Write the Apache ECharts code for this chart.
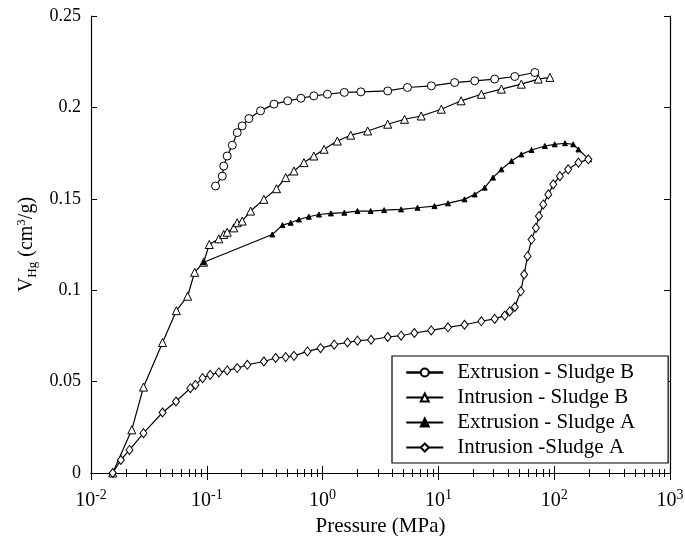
<!DOCTYPE html>
<html>
<head>
<meta charset="utf-8">
<script src="https://cdn.jsdelivr.net/npm/echarts@6/dist/echarts.min.js"></script>
<style>
html, body { margin: 0; padding: 0; background: #fff; }
#chart { width: 685px; height: 536px; }
</style>
</head>
<body>
<div id="chart"></div>
<script>
// Extrusion - Sludge B (circles), from high pressure down
var extBP = [68, 45.7, 30.6, 20.6, 13.8, 8.7, 5.4, 3.65, 2.14, 1.54, 1.1, 0.84, 0.65, 0.5, 0.38, 0.291, 0.231, 0.202, 0.183, 0.166, 0.15, 0.14, 0.136, 0.119];
var extBV = [0.2191, 0.2169, 0.2155, 0.2145, 0.2136, 0.2118, 0.2109, 0.209, 0.2085, 0.2082, 0.2072, 0.2063, 0.205, 0.2036, 0.2018, 0.1981, 0.1939, 0.1899, 0.1862, 0.1793, 0.1734, 0.1679, 0.1624, 0.157];

// Intrusion - Sludge B (open triangles)
var intBP = [0.0154, 0.0225, 0.0284, 0.0415, 0.0546, 0.0683, 0.0785, 0.094, 0.105, 0.127, 0.14, 0.15, 0.171, 0.183, 0.202, 0.239, 0.311, 0.4, 0.48, 0.566, 0.69, 0.84, 1.03, 1.34, 1.75, 2.45, 3.65, 5.1, 7.1, 10.6, 15.7, 23.5, 35, 52, 72.8, 91.8];
var intBV = [0, 0.0236, 0.047, 0.0714, 0.0888, 0.0967, 0.1098, 0.1153, 0.125, 0.1281, 0.1305, 0.1317, 0.1341, 0.1369, 0.1378, 0.1433, 0.1497, 0.1555, 0.1616, 0.1652, 0.1698, 0.1734, 0.1771, 0.1816, 0.1848, 0.1871, 0.1908, 0.1935, 0.1953, 0.199, 0.2036, 0.2072, 0.21, 0.2127, 0.2155, 0.2164];

// Extrusion - Sludge A (small filled triangles), from high pressure down
var extAP = [200, 162, 146, 124, 101, 83, 63.7, 52, 42.8, 35, 29.6, 25.1, 20.6, 16.8, 12.1, 9.25, 6.6, 4.76, 3.4, 2.6, 2.0, 1.54, 1.18, 0.93, 0.76, 0.625, 0.53, 0.45, 0.368, 0.094];
var extAV = [0.1716, 0.177, 0.1798, 0.1804, 0.1798, 0.1789, 0.1767, 0.1743, 0.1707, 0.1661, 0.1616, 0.1561, 0.1524, 0.1497, 0.1475, 0.146, 0.1451, 0.1442, 0.1438, 0.1433, 0.1433, 0.1424, 0.142, 0.1414, 0.1402, 0.1387, 0.1369, 0.1356, 0.1305, 0.1153];

// Intrusion - Sludge A (diamonds)
var intAP = [0.0154, 0.0181, 0.0215, 0.0284, 0.0415, 0.0542, 0.0721, 0.0797, 0.092, 0.107, 0.127, 0.15, 0.183, 0.224, 0.311, 0.393, 0.48, 0.566, 0.74, 0.96, 1.26, 1.64, 2.0, 2.62, 3.65, 4.76, 6.2, 8.66, 12.1, 16.8, 23.5, 30.6, 37.4, 41.3, 45.7, 51.5, 55, 58.9, 63.7, 69.5, 73.8, 80.4, 88.9, 98.2, 112, 132, 162, 197];
var intAV = [0, 0.0071, 0.0126, 0.0218, 0.0331, 0.0391, 0.0464, 0.0482, 0.0519, 0.0537, 0.055, 0.0561, 0.0574, 0.0592, 0.061, 0.0629, 0.0634, 0.0641, 0.0665, 0.0683, 0.0702, 0.0714, 0.0724, 0.0729, 0.0744, 0.0751, 0.0766, 0.078, 0.0797, 0.0811, 0.083, 0.0843, 0.0861, 0.0884, 0.0908, 0.0994, 0.1086, 0.1186, 0.1277, 0.1341, 0.1405, 0.1469, 0.1524, 0.1579, 0.1624, 0.1661, 0.1698, 0.1716];

var names = ['Extrusion - Sludge B', 'Intrusion - Sludge B', 'Extrusion - Sludge A', 'Intrusion -Sludge A'];

function pairs(p, v) {
	return p.map(function (x, i) { return [x, v[i]]; });
}

var font = 'Liberation Serif, Times New Roman, serif';

var xAxisBase = {
	type: 'log',
	logBase: 10,
	min: 0.01,
	max: 1000,
	axisLine: { show: true, lineStyle: { color: '#000', width: 1.2 } },
	axisTick: { show: true, inside: true, length: 7, lineStyle: { color: '#000', width: 1 } },
	minorTick: { show: true, splitNumber: 9, length: 4, lineStyle: { color: '#000', width: 1 } },
	splitLine: { show: false },
	minorSplitLine: { show: false }
};

var yAxisBase = {
	type: 'value',
	min: 0,
	max: 0.25,
	interval: 0.05,
	axisLine: { show: true, lineStyle: { color: '#000', width: 1.2 } },
	axisTick: { show: true, inside: true, length: 6, lineStyle: { color: '#000', width: 1 } },
	splitLine: { show: false }
};

var chart = echarts.init(document.getElementById('chart'));

chart.setOption({
	backgroundColor: '#fff',
	animation: false,
	grid: { left: 91, right: 15, top: 16, bottom: 63, containLabel: false, outerBoundsMode: 'none' },
	xAxis: [
		Object.assign({}, xAxisBase, {
			position: 'bottom',
			name: 'Pressure (MPa)',
			nameLocation: 'middle',
			nameGap: 41,
			nameTextStyle: { fontFamily: font, fontSize: 21, color: '#000' },
			axisLabel: {
				margin: 15,
				color: '#000',
				fontFamily: font,
				fontSize: 20,
				formatter: function (v) {
					return '10{sup|' + Math.round(Math.log10(v)) + '}';
				},
				rich: {
					sup: { fontFamily: font, fontSize: 14, color: '#000', padding: [0, 0, 12, 0] }
				}
			}
		}),
		Object.assign({}, xAxisBase, {
			position: 'top',
			axisLabel: { show: false }
		})
	],
	yAxis: [
		Object.assign({}, yAxisBase, {
			position: 'left',
			name: 'V{sub|Hg} (cm{sup|3}/g)',
			nameLocation: 'middle',
			nameRotate: 90,
			nameGap: 45,
			nameTextStyle: {
				fontFamily: font, fontSize: 20, color: '#000',
				rich: {
					sub: { fontFamily: font, fontSize: 13, color: '#000', padding: [10, 0, 0, 0] },
					sup: { fontFamily: font, fontSize: 13, color: '#000', padding: [0, 0, 12, 0] }
				}
			},
			axisLabel: { margin: 10, color: '#000', fontFamily: font, fontSize: 18 }
		}),
		Object.assign({}, yAxisBase, {
			position: 'right',
			axisLabel: { show: false }
		})
	],
	legend: {
		orient: 'vertical',
		left: 392,
		top: 356,
		padding: [6, 33, 5, 13],
		itemGap: 4,
		itemWidth: 37,
		itemHeight: 10,
		borderColor: '#000',
		borderWidth: 1.2,
		backgroundColor: '#fff',
		textStyle: { fontFamily: font, fontSize: 21, color: '#000', lineHeight: 20, padding: [0, 0, 0, 9] },
		data: [
			{ name: names[0], lineStyle: { width: 2.5 } },
			{ name: names[1] },
			{ name: names[2] },
			{ name: names[3] }
		]
	},
	series: [
		{
			name: names[0],
			type: 'line',
			data: pairs(extBP, extBV),
			symbol: 'circle',
			symbolSize: 8,
			showAllSymbol: true,
			lineStyle: { color: '#000', width: 1.2 },
			itemStyle: { color: '#fff', borderColor: '#000', borderWidth: 1 }
		},
		{
			name: names[1],
			type: 'line',
			data: pairs(intBP, intBV),
			symbol: 'triangle',
			symbolSize: 8,
			showAllSymbol: true,
			lineStyle: { color: '#000', width: 1.2 },
			itemStyle: { color: '#fff', borderColor: '#000', borderWidth: 1 }
		},
		{
			name: names[2],
			type: 'line',
			data: pairs(extAP, extAV),
			symbol: 'triangle',
			symbolSize: 5,
			showAllSymbol: true,
			lineStyle: { color: '#000', width: 1.2 },
			itemStyle: { color: '#000', borderColor: '#000', borderWidth: 1 }
		},
		{
			name: names[3],
			type: 'line',
			data: pairs(intAP, intAV),
			symbol: 'diamond',
			symbolSize: [7, 9],
			showAllSymbol: true,
			lineStyle: { color: '#000', width: 1.2 },
			itemStyle: { color: '#fff', borderColor: '#000', borderWidth: 1 }
		}
	]
});
</script>
</body>
</html>
